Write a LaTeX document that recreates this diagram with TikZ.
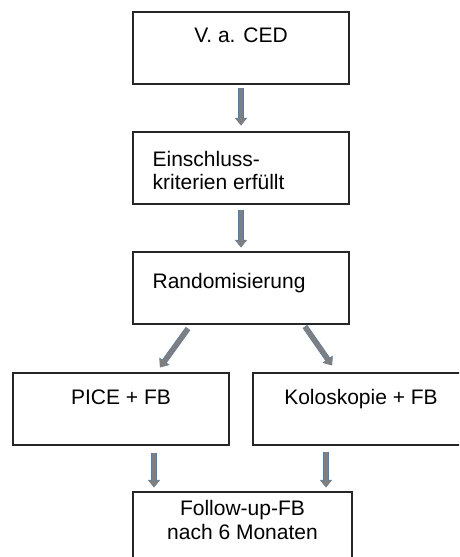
\documentclass[tikz,border=0pt]{standalone}
\usepackage{fontspec}
\setmainfont{Liberation Sans}
\usetikzlibrary{arrows.meta}

\definecolor{framegray}{HTML}{262626}
\definecolor{arrgray}{HTML}{7F7F7F}
\definecolor{arrblue}{HTML}{4A7EBB}

\tikzset{
  box/.style={draw=framegray, line width=1.2pt, fill=white,
    minimum width=216pt, minimum height=72pt, inner sep=0pt},
  lbl/.style={inner sep=0pt, font=\fontsize{21}{23}\selectfont},
  blk/.style={line width=4.6pt, draw=arrgray,
    -{Triangle[width=10.5pt,length=7pt]},
    preaction={draw=arrblue, line width=5.6pt,
      -{Triangle[width=12pt,length=7.6pt]}}},
}

\begin{document}
\begin{tikzpicture}[x=1pt, y=-1pt]
  \useasboundingbox (0,0) rectangle (459,557);
  \clip (0,0) rectangle (459,557);

  % boxes of the flow chart
  \node[box] (b1) at (241,48) {};
  \node[box] (b2) at (241,168) {};
  \node[box] (b3) at (241,288) {};
  \node[box] (b4) at (121,409) {};
  \node[box] (b5) at (361,409) {};
  \node[box, minimum width=219pt] (b6) at (242.5,528) {};

  % box texts
  \node[lbl, anchor=base] (t1) at ([yshift=-31pt]b1.north) {V. a. CED};
  \node[lbl, anchor=north west, align=left] (t2)
    at ([xshift=20pt,yshift=-20pt]b2.north west) {Einschluss-\\kriterien erfüllt};
  \node[lbl, anchor=base west] (t3) at ([xshift=20pt,yshift=-37pt]b3.north west) {Randomisierung};
  \node[lbl, anchor=base] (t4) at ([yshift=-32pt]b4.north) {PICE + FB};
  \node[lbl, anchor=base] (t5) at ([yshift=-32pt]b5.north) {Koloskopie + FB};
  \node[lbl, anchor=north, align=center, font=\fontsize{21}{24}\selectfont] (t6)
    at ([yshift=-9pt]b6.north) {Follow-up-FB\\nach 6 Monaten};

  % block arrows
  \draw[blk] ([yshift=-3pt]b1.south) -- ([yshift=6pt]b2.north);
  \draw[blk] ([yshift=-5pt]b2.south) -- ([yshift=4pt]b3.north);
  \draw[blk] ([xshift=-53pt,yshift=-4pt]b3.south) -- ([xshift=39pt,yshift=5pt]b4.north);
  \draw[blk] ([xshift=64pt,yshift=-2pt]b3.south) -- ([xshift=-29pt,yshift=7pt]b5.north);
  \draw[blk] ([xshift=33pt,yshift=-7pt]b4.south) -- ([xshift=-88.5pt,yshift=4pt]b6.north);
  \draw[blk] ([xshift=-35pt,yshift=-6pt]b5.south) -- ([xshift=83.5pt,yshift=4pt]b6.north);
\end{tikzpicture}
\end{document}
